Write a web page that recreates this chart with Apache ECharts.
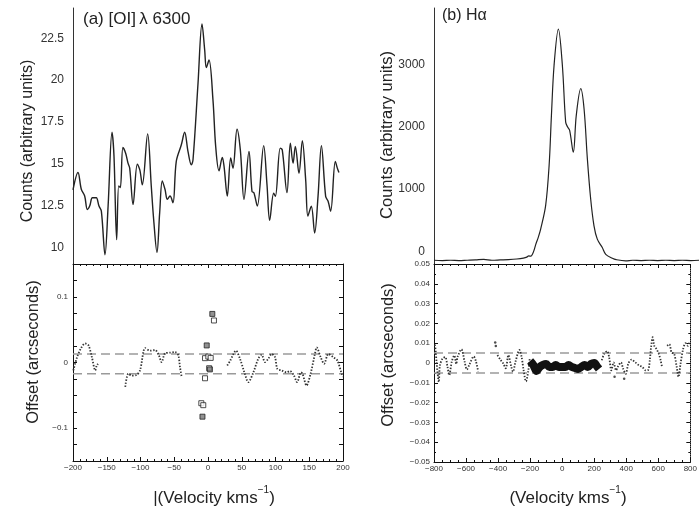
<!DOCTYPE html>
<html><head><meta charset="utf-8">
<script src="https://cdn.jsdelivr.net/npm/echarts@6/dist/echarts.min.js"></script>
<style>html,body{margin:0;padding:0;background:#fff}#c{width:700px;height:508px}</style>
</head><body><div id="c"></div>
<script>
// ---------- DATA ----------
// Panel (a) [OI] 6300 spectrum
const aVel = [-200,-192.6,-187.7,-182.7,-178.8,-175.3,-171.4,-168,-165.4,-161.5,-158,-152.6,-148,-142.2,-139.3,-135.3,-132.3,-129.9,-126,-122,-118.5,-116,-111,-104.7,-101,-97.3,-89.4,-84,-80.5,-75.6,-71.6,-67.7,-63.7,-60.2,-56.3,-51.9,-47,-39.5,-34.6,-29.6,-24.7,-22.2,-14.8,-8.9,-4.9,-2.5,1.5,7.4,11.4,16.3,21.2,23.7,28.6,33.6,37,43,47.9,53.3,60.7,65.2,68,73,82.5,87.4,91.4,97.3,99.8,107,110,117,122,126,129.4,134.8,139.75,144.7,148,153,158,163,168,174.3,177.8,181.7,188.6,191.6,194];
const aCounts = [13.47,14.5,13.5,13.1,12.3,12.5,13.0,13.0,13.0,12.5,12.2,9.6,12.5,16.9,15.5,10.5,13.7,13.6,16.0,15.65,15.06,14.76,12.6,15.0,14.66,13.77,16.8,13.67,11.7,9.74,12.1,14.0,13.5,12.9,13.1,12.7,15.16,16.15,16.9,15.75,14.96,15.26,19.8,23.35,21.8,20.75,21.2,18.8,16.05,14.6,15.4,14.9,13.1,15.36,14.76,17.08,15.85,12.9,15.75,13.37,13.3,12.5,16.1,13.77,11.65,13.27,13.08,15.95,15.85,13.3,16.25,15.06,16.05,14.46,16.4,14.07,11.9,12.5,10.9,13.08,16.1,13.08,12.8,12.2,15.16,14.76,14.5];
const aCountTicks = [10,12.5,15,17.5,20,22.5];

// Panel (a) offsets (dotted segments)
const aOff1Vel = [-199.5,-194,-188,-182,-177,-172,-167,-165,-163];
const aOff1 = [-0.012,0.008,0.022,0.029,0.026,0.008,-0.012,-0.005,-0.002];
const aOff2Vel = [-122.6,-118,-113,-106,-100.7,-93,-85.9,-78.5,-73.6,-68.6,-63.7,-56.3,-48.9,-44,-41.5,-39];
const aOff2 = [-0.037,-0.017,-0.02,-0.019,-0.012,0.022,0.018,0.019,0.013,0.0005,0.014,0.015,0.016,0.011,-0.007,-0.022];
const aOff3Vel = [28.5,33,41.5,47.4,53.8,59.8,67.2,74.6,79.5,84.4,89.4,94.3,99.3,102.7,109,116.4,121.4,127.3,132,137.8,140,146,152,158.4,161,167,172,178.3,185.7,191.6,198,200];
const aOff3 = [-0.0046,0.003,0.018,0.0056,-0.0148,-0.03,-0.015,0.006,0.0117,0.0005,0.006,0.013,0.008,-0.0097,-0.012,-0.015,-0.013,-0.02,-0.03,-0.015,-0.017,-0.035,-0.017,0.013,0.023,0.008,-0.002,0.013,0.008,0.003,-0.017,-0.022];
const aSqFilledVel = [6.4,-1.9,2.8,-8.2];
const aSqFilled = [0.074,0.026,-0.0105,-0.0825];
const aSqOpenVel = [8.8,-4.4,0.5,4,1.7,-4.4,-9.9,-7];
const aSqOpen = [0.064,0.0066,0.009,0.007,-0.0087,-0.024,-0.062,-0.065];
const aDashLevels = [0.013,-0.017];
const aOffTicks = [-0.1,0,0.1];

// Panel (b) H-alpha spectrum
const bVel = [-800,-750,-700,-650,-600,-550,-500,-450,-400,-350,-300,-260,-240,-228,-215,-205,-196,-186,-170,-156,-126,-105,-91,-75,-49,-25,-5,7,19,41,59,86,106,126,146,166,186,216,237,277,300,357,400,450,500,550,600,650,700,750,800];
const bCounts = [-140,-145,-140,-145,-140,-135,-125,-140,-135,-130,-120,-105,-90,-70,-75,-40,20,110,230,359,734,1377,2180,2984,3562,2984,2073,1993,1939,1591,2180,2609,2287,1484,841,412,198,64,-45,-108,-130,-150,-140,-145,-140,-145,-140,-145,-140,-145,-140];
const bCountTicks = [0,1000,2000,3000];

// Panel (b) offsets
const bOff1Vel = [-794,-789,-784,-770,-763,-747,-730,-716,-705,-689,-673,-661,-653,-629,-609,-595,-579,-552,-538,-524];
const bOff1 = [0.0093,0.0056,0.0005,-0.0096,-0.0012,0.0022,0.003,-0.0018,-0.0062,0.0007,0.0038,-0.0005,0.003,0.0069,0.0007,-0.0033,-0.0008,0.0033,0.0008,-0.0043];
const bOff2Vel = [-404,-384,-368,-352,-336,-318,-307,-291,-267,-253,-241,-226,-212,-202];
const bOff2 = [0.004,0.0015,-0.0002,-0.0027,0.004,-0.0018,-0.0044,0.0007,0.0066,0.003,-0.0035,-0.0093,-0.0043,0.0025];
const bBlobVel = [-200,-180,-160,-140,-120,-100,-80,-60,-40,-20,0,20,40,60,80,100,120,140,160,180,200,220,230];
const bBlob = [0.001,-0.001,-0.004,-0.002,-0.001,-0.0005,-0.002,-0.002,-0.001,-0.002,-0.002,-0.002,-0.001,-0.002,-0.0025,-0.003,-0.002,-0.001,-0.002,-0.0005,0,-0.002,-0.003];
const bOff3Vel = [247,263,281,293,307,321,337,347,367,381,397,413,433,457,481,501,521,537,547,555,565,575,589,603,615,623];
const bOff3 = [0.0014,0.0047,0.006,0.003,-0.0037,0.0003,-0.0037,-0.002,0.0003,-0.003,-0.0055,-0.0003,0.0017,0.0003,-0.0013,-0.002,-0.0037,-0.0035,0.0013,0.008,0.013,0.0087,0.007,0.0047,0.0013,-0.002];
const bOff4Vel = [655,669,683,699,715,726,739,755,770,784,796];
const bOff4 = [0.0087,0.0095,0.0053,0.0047,-0.002,-0.007,-0.0003,0.007,0.010,0.0087,0.011];
const bDotsVel = [-418,-414,327,387];
const bDots = [0.0103,0.0086,-0.007,-0.008];
const bDashLevels = [0.005,-0.005];

// ---------- HELPERS ----------
const zip = (xs, ys) => xs.map((x, i) => [x, ys[i]]);
const minus = s => String(s).replace('-', '\u2212');
const INK = '#222';
const FONT = 'Liberation Sans, Arial, Helvetica, sans-serif';

function boxX(grid, min, max, interval, minorSplit, labels, pos) {
  return {
    type: 'value', gridIndex: grid, min, max, interval, position: pos,
    axisLine: { show: true, onZero: false, lineStyle: { color: '#111', width: 1 } },
    axisTick: { show: true, inside: true, length: 4, lineStyle: { color: '#111' } },
    minorTick: { show: true, splitNumber: minorSplit, length: 2, lineStyle: { color: '#111' } },
    axisLabel: { show: labels, fontSize: 8, color: '#333', fontFamily: FONT, margin: 3, formatter: v => minus(v) },
    splitLine: { show: false }
  };
}

const chart = echarts.init(document.getElementById('c'), null, { renderer: 'canvas' });

const dotted = (name, x, y, xi, yi) => ({
  name, type: 'line', xAxisIndex: xi, yAxisIndex: yi, data: zip(x, y), smooth: 0.3,
  showSymbol: false, symbol: 'none', silent: true,
  lineStyle: { color: '#333', width: 1.8, type: [1.4, 1.6] }
});
const dashLine = (lev, min, max, xi, yi) => ({
  type: 'line', xAxisIndex: xi, yAxisIndex: yi, data: [[min, lev], [max, lev]],
  symbol: 'none', silent: true, z: 1,
  lineStyle: { color: '#9a9a9a', width: 1.5, type: [9, 5] }
});
const sup = {
  b: { fontSize: 17, fontFamily: FONT, color: INK, lineHeight: 22, verticalAlign: 'bottom' },
  s: { fontSize: 10, fontFamily: FONT, color: INK, lineHeight: 22, verticalAlign: 'top' }
};

const option = {
  backgroundColor: '#fff',
  animation: false,
  textStyle: { fontFamily: FONT },
  grid: [
    { left: 73, top: 8, width: 270, height: 256 },
    { left: 73, top: 264, width: 270, height: 197 },
    { left: 434, top: 8, width: 265, height: 256 },
    { left: 434, top: 264, width: 265, height: 198 }
  ],
  xAxis: [
    { type: 'value', gridIndex: 0, min: -200, max: 200, show: false },
    boxX(1, -200, 200, 50, 5, true, 'bottom'),
    boxX(1, -200, 200, 50, 5, false, 'top'),
    { type: 'value', gridIndex: 2, min: -800, max: 800, show: false },
    boxX(3, -800, 800, 200, 4, true, 'bottom'),
    boxX(3, -800, 800, 200, 4, false, 'top')
  ],
  yAxis: [
    { type: 'value', gridIndex: 0, min: 9.05, max: 24.3, position: 'left',
      axisLine: { show: true, onZero: false, lineStyle: { color: '#333', width: 1 } },
      axisTick: { show: false }, splitLine: { show: false },
      axisLabel: { customValues: aCountTicks, fontSize: 12, color: '#333', margin: 9, fontFamily: FONT, formatter: v => String(v) } },
    { type: 'value', gridIndex: 1, min: -0.15, max: 0.15, position: 'left',
      axisLine: { show: true, onZero: false, lineStyle: { color: '#111' } },
      axisTick: { show: true, inside: true, length: 4, customValues: [-0.15,-0.125,-0.1,-0.075,-0.05,-0.025,0,0.025,0.05,0.075,0.1,0.125,0.15], lineStyle: { color: '#111' } },
      splitLine: { show: false },
      axisLabel: { customValues: aOffTicks, fontSize: 8, color: '#333', margin: 5, fontFamily: FONT, formatter: v => Math.abs(v) < 1e-9 ? '0' : minus(v) } },
    { type: 'value', gridIndex: 1, min: -0.15, max: 0.15, position: 'right',
      axisLine: { show: true, onZero: false, lineStyle: { color: '#111' } },
      axisTick: { show: true, inside: true, length: 4, customValues: [-0.15,-0.125,-0.1,-0.075,-0.05,-0.025,0,0.025,0.05,0.075,0.1,0.125,0.15], lineStyle: { color: '#111' } },
      splitLine: { show: false }, axisLabel: { show: false } },
    { type: 'value', gridIndex: 2, min: -200, max: 3900, position: 'left',
      axisLine: { show: true, onZero: false, lineStyle: { color: '#333', width: 1 } },
      axisTick: { show: false }, splitLine: { show: false },
      axisLabel: { customValues: bCountTicks, fontSize: 12, color: '#333', margin: 9, fontFamily: FONT, formatter: v => String(v) } },
    { type: 'value', gridIndex: 3, min: -0.05, max: 0.05, interval: 0.01, position: 'left',
      axisLine: { show: true, onZero: false, lineStyle: { color: '#111' } },
      axisTick: { show: true, inside: true, length: 4, lineStyle: { color: '#111' } },
      minorTick: { show: true, splitNumber: 2, length: 2, lineStyle: { color: '#111' } },
      splitLine: { show: false },
      axisLabel: { fontSize: 8, color: '#333', margin: 4, fontFamily: FONT, formatter: v => Math.abs(v) < 1e-9 ? '0' : (v < 0 ? '\u2212' : '') + Math.abs(v).toFixed(2) } },
    { type: 'value', gridIndex: 3, min: -0.05, max: 0.05, interval: 0.01, position: 'right',
      axisLine: { show: true, onZero: false, lineStyle: { color: '#111', type: [1, 1] } },
      axisTick: { show: true, inside: true, length: 4, lineStyle: { color: '#111' } },
      minorTick: { show: true, splitNumber: 2, length: 2, lineStyle: { color: '#111' } },
      splitLine: { show: false }, axisLabel: { show: false } }
  ],
  series: [
    { name: '[OI]', type: 'line', xAxisIndex: 0, yAxisIndex: 0, data: zip(aVel, aCounts), smooth: 0.35,
      symbol: 'none', lineStyle: { color: INK, width: 1.4 } },
    { name: 'Halpha', type: 'line', xAxisIndex: 3, yAxisIndex: 3, data: zip(bVel, bCounts), smooth: 0.35,
      symbol: 'none', lineStyle: { color: INK, width: 1.2 } },
    dashLine(aDashLevels[0], -200, 200, 1, 1),
    dashLine(aDashLevels[1], -200, 200, 1, 1),
    dashLine(bDashLevels[0], -800, 800, 4, 4),
    dashLine(bDashLevels[1], -800, 800, 4, 4),
    dotted('a1', aOff1Vel, aOff1, 1, 1),
    dotted('a2', aOff2Vel, aOff2, 1, 1),
    dotted('a3', aOff3Vel, aOff3, 1, 1),
    { type: 'scatter', xAxisIndex: 1, yAxisIndex: 1, data: zip(aSqOpenVel, aSqOpen), symbol: 'rect', symbolSize: 5,
      itemStyle: { color: '#fff', borderColor: INK, borderWidth: 1 }, silent: true },
    { type: 'scatter', xAxisIndex: 1, yAxisIndex: 1, data: zip(aSqFilledVel, aSqFilled), symbol: 'rect', symbolSize: 5,
      itemStyle: { color: '#777', borderColor: INK, borderWidth: 1 }, silent: true },
    dotted('b1', bOff1Vel, bOff1, 4, 4),
    dotted('b2', bOff2Vel, bOff2, 4, 4),
    dotted('b3', bOff3Vel, bOff3, 4, 4),
    dotted('b4', bOff4Vel, bOff4, 4, 4),
    { type: 'line', xAxisIndex: 4, yAxisIndex: 4, data: zip(bBlobVel, bBlob), smooth: 0.3, symbol: 'none', silent: true,
      lineStyle: { color: '#111', width: 8 } },
    { type: 'scatter', xAxisIndex: 4, yAxisIndex: 4, data: zip(bDotsVel, bDots), symbol: 'circle', symbolSize: 2.5,
      itemStyle: { color: '#222' }, silent: true }
  ],
  graphic: [
    { type: 'text', left: 83, top: 11, style: { text: '(a) [OI]\u2009\u03bb 6300', font: '17px ' + FONT, fill: INK } },
    { type: 'text', left: 442, top: 8, style: { text: '(b) H\u03b1', font: '16px ' + FONT, fill: INK } },
    { type: 'text', x: 28, y: 141, rotation: Math.PI / 2,
      style: { text: 'Counts (arbitrary units)', font: '16px ' + FONT, fill: INK, align: 'center', verticalAlign: 'middle' } },
    { type: 'text', x: 387, y: 135, rotation: Math.PI / 2,
      style: { text: 'Counts (arbitrary units)', font: '16.5px ' + FONT, fill: INK, align: 'center', verticalAlign: 'middle' } },
    { type: 'text', x: 33, y: 352, rotation: Math.PI / 2,
      style: { text: 'Offset (arcseconds)', font: '16.5px ' + FONT, fill: INK, align: 'center', verticalAlign: 'middle' } },
    { type: 'text', x: 388, y: 355, rotation: Math.PI / 2,
      style: { text: 'Offset (arcseconds)', font: '16.5px ' + FONT, fill: INK, align: 'center', verticalAlign: 'middle' } },
    { type: 'text', x: 214, y: 496,
      style: { text: '{b||(Velocity kms}{s|\u22121}{b|)}', align: 'center', verticalAlign: 'middle', fill: INK, rich: sup } },
    { type: 'text', x: 568, y: 496,
      style: { text: '{b|(Velocity kms}{s|\u22121}{b|)}', align: 'center', verticalAlign: 'middle', fill: INK, rich: sup } }
  ]
};
chart.setOption(option);
</script>
</body></html>
